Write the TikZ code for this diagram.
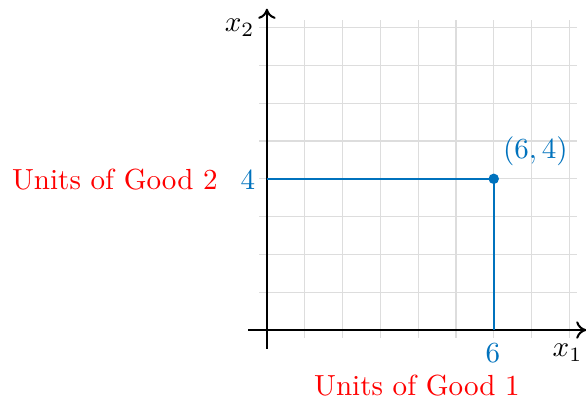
\documentclass[tikz,border=0pt]{standalone}
\usepackage{xcolor}
\usepackage{tikz}
\usetikzlibrary{arrows.meta,positioning}
\definecolor{bundleblue}{HTML}{0072BD}
\definecolor{gridgray}{HTML}{DDDDDD}

\begin{document}
\begin{tikzpicture}[
    x=13pt, y=13pt,
    gridline/.style={gridgray, line width=0.4pt, step=13pt},
    axisline/.style={-{To[length=3.5pt, width=6pt]}, line width=0.7pt},
    guide/.style={bundleblue, line width=0.7pt},
    dot/.style={circle, fill=bundleblue, inner sep=0pt, minimum size=3.6pt},
    goodlabel/.style={red}
]
    \useasboundingbox (-7.06,-1.93) rectangle (8.44,8.73);
    \draw[gridline] (-0.2,-0.2) grid (8.2,8.2);

    \coordinate (xstart) at (-0.5,0);
    \coordinate (xend) at (8.45,0);
    \coordinate (ystart) at (0,-0.5);
    \coordinate (yend) at (0,8.5);
    \draw[axisline] (xstart) -- (xend);
    \draw[axisline] (ystart) -- (yend);
    \node (xlab) at (7.95,-0.6) {$x_1$};
    \node (ylab) at (-0.72,8.0) {$x_2$};

    \coordinate (onx) at (6,0);
    \coordinate (ony) at (0,4);
    \node[dot] (bundle) at (6,4) {};
    \draw[guide] (ony) -- (bundle.center) -- (onx);
    \node[bundleblue] (bundlelab) at (7.1,4.72) {$(6,4)$};
    \node[bundleblue] (xval) at (5.98,-0.6) {$6$};
    \node[bundleblue] (yval) at (-0.5,3.97) {$4$};

    \node[goodlabel] (good2) at (-4.02,3.97) {Units of Good 2};
    \node[goodlabel] (good1) at (3.97,-1.46) {Units of Good 1};
\end{tikzpicture}
\end{document}
